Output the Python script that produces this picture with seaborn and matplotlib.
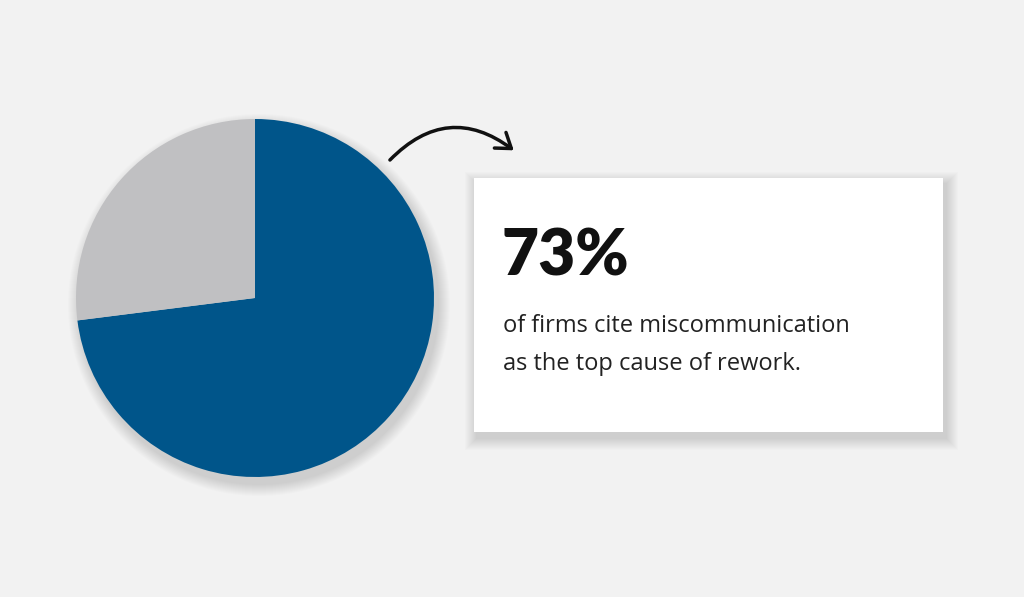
import matplotlib
matplotlib.use("Agg")
import matplotlib.pyplot as plt
import seaborn as sns
from matplotlib.patches import FancyArrowPatch, Rectangle, Circle

labels = ["Miscommunication", "Other"]
values = [73, 27]
colors = ["#00558a", "#c0c0c2"]
headline = "73%"
body = "of firms cite miscommunication\nas the top cause of rework."

sns.set_theme(style="white")
plt.rcParams['font.family'] = ['Open Sans', 'DejaVu Sans']

W, H = 1024, 597
fig = plt.figure(figsize=(W/100, H/100), dpi=100, facecolor="#f2f2f2")

# overlay in pixel coords
ov = fig.add_axes([0, 0, 1, 1])
ov.set_xlim(0, W); ov.set_ylim(H, 0); ov.axis("off")
ov.set_facecolor("none")

# pie shadow
for i in range(12):
    ov.add_patch(Circle((259, 305), 179 + 12 - i, color="#000000", alpha=0.012, lw=0))
# box shadow
for i in range(12):
    d = 12 - i
    ov.add_patch(Rectangle((474 - d + 3, 178 - d + 6), 469 + 2*d, 254 + 2*d,
                           color="#000000", alpha=0.01, lw=0))
ov.add_patch(Rectangle((474, 178), 469, 254, color="white", lw=0))
ov.text(502, 275, headline, fontsize=46, fontweight="heavy", color="#111111",
        family=["Lato", "DejaVu Sans"], va="baseline")
ov.text(503, 314, body, fontsize=17, color="#222222", va="top", linespacing=1.75)

arrow = FancyArrowPatch((388, 162), (516, 152), connectionstyle="arc3,rad=-0.45",
                        arrowstyle="-|>,head_length=10,head_width=6", lw=2.5,
                        color="#111111", mutation_scale=1)
arrow.set_arrowstyle("->,head_length=10,head_width=7")
ov.add_patch(arrow)

ax = fig.add_axes([76/W, (H-477)/H, 358/W, 358/H])
ax.pie(values, colors=colors, startangle=90, counterclock=False,
       wedgeprops=dict(linewidth=0))
ax.set_aspect("equal")
ax.set_xlim(-1, 1); ax.set_ylim(-1, 1)
ax.axis("off")

fig.savefig("out.png", dpi=100, facecolor=fig.get_facecolor())
